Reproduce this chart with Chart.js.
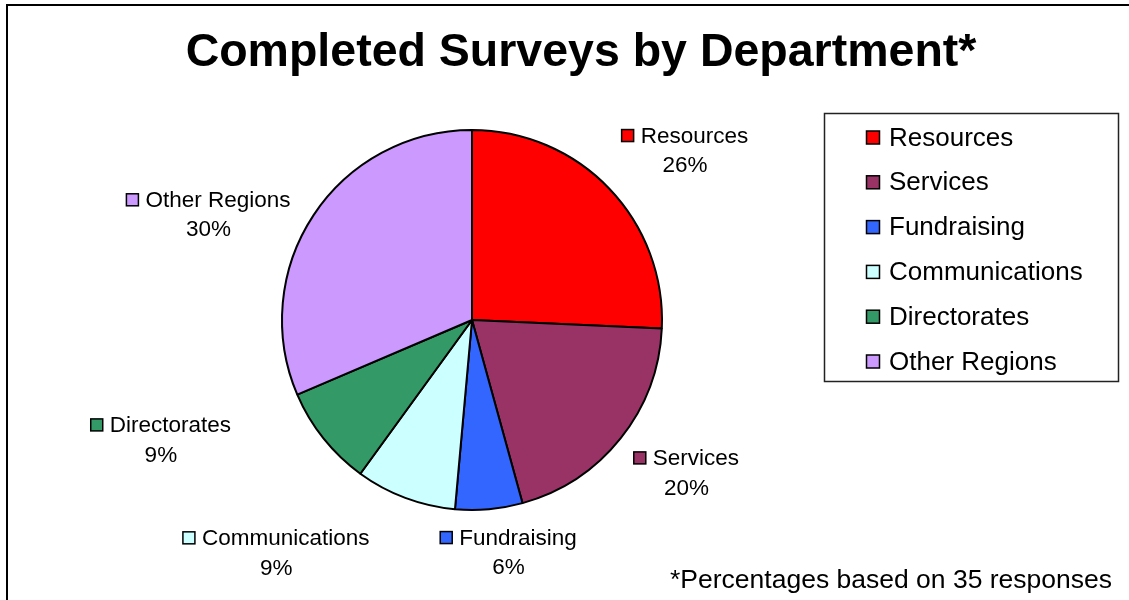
<!DOCTYPE html>
<html>
<head>
<meta charset="utf-8">
<title>Completed Surveys by Department</title>
<script src="https://cdn.jsdelivr.net/npm/chart.js@4.4.1/dist/chart.umd.min.js"></script>
<style>
  html, body { margin: 0; padding: 0; background: #fff; }
  #wrap { width: 1129px; height: 600px; }
</style>
</head>
<body>
<div id="wrap"><canvas id="surveyChart" width="1129" height="600"></canvas></div>
<script>
// data (35 responses in total)
const departments = ["Resources", "Services", "Fundraising", "Communications", "Directorates", "Other Regions"];
const responses = [9, 7, 2, 3, 3, 11];
const percentLabels = ["26%", "20%", "6%", "9%", "9%", "30%"];
const sliceColors = ["#FF0000", "#993366", "#3366FF", "#CCFFFF", "#339966", "#CC99FF"];

const chartTitle = "Completed Surveys by Department*";
const footNote = "*Percentages based on 35 responses";

const FONT = "'Liberation Sans', Arial, sans-serif";

// the labels were dragged around by hand in the original, so nudge them
const labelNudge = [[19, -11], [13, 9], [12, 3], [-91, 17], [-96, -24], [-24, 21]];

const decorPlugin = {
  id: "decor",
  afterDraw(chart) {
    const ctx = chart.ctx;
    ctx.save();

    // outer frame (only top and left visible)
    ctx.strokeStyle = "#000";
    ctx.lineWidth = 2;
    ctx.beginPath();
    ctx.moveTo(7, 610);
    ctx.lineTo(7, 5);
    ctx.lineTo(1140, 5);
    ctx.stroke();

    // title
    ctx.fillStyle = "#000";
    ctx.font = "bold 46.5px " + FONT;
    ctx.textAlign = "center";
    ctx.textBaseline = "alphabetic";
    ctx.fillText(chartTitle, 581, 66);

    // data labels outside the pie
    const meta = chart.getDatasetMeta(0);
    ctx.font = "22.5px " + FONT;
    meta.data.forEach((arc, i) => {
      const mid = (arc.startAngle + arc.endAngle) / 2;
      const ux = Math.cos(mid), uy = Math.sin(mid);
      const ax = arc.x + ux * (arc.outerRadius + 15);
      const ay = arc.y + uy * (arc.outerRadius + 15);
      const nameW = ctx.measureText(departments[i]).width;
      const w = 12 + 7 + nameW, h = 50;
      const cx = ax + ux * w / 2 + labelNudge[i][0];
      const cy = ay + uy * h / 2 + labelNudge[i][1];
      const y1 = cy - 14.5, y2 = cy + 15;
      const sx = cx - w / 2;

      ctx.fillStyle = sliceColors[i];
      ctx.fillRect(sx, y1 - 6, 12, 12);
      ctx.strokeStyle = "#000";
      ctx.lineWidth = 1.5;
      ctx.strokeRect(sx, y1 - 6, 12, 12);

      ctx.fillStyle = "#000";
      ctx.textAlign = "left";
      ctx.textBaseline = "middle";
      ctx.fillText(departments[i], sx + 19, y1 + 1);
      ctx.textAlign = "center";
      ctx.fillText(percentLabels[i], cx, y2 + 1);
    });

    // legend box
    ctx.strokeStyle = "#222";
    ctx.lineWidth = 1.5;
    ctx.strokeRect(824.5, 113.5, 294, 268);
    ctx.font = "26px " + FONT;
    ctx.textAlign = "left";
    ctx.textBaseline = "middle";
    departments.forEach((name, i) => {
      const y = 137.5 + i * 44.8;
      ctx.fillStyle = sliceColors[i];
      ctx.fillRect(866.5, y - 6.5, 13, 13);
      ctx.strokeStyle = "#000";
      ctx.lineWidth = 1.5;
      ctx.strokeRect(866.5, y - 6.5, 13, 13);
      ctx.fillStyle = "#000";
      ctx.fillText(name, 889, y + 1);
    });

    // foot note
    ctx.font = "26.5px " + FONT;
    ctx.textAlign = "right";
    ctx.textBaseline = "alphabetic";
    ctx.fillText(footNote, 1112, 588);

    ctx.restore();
  }
};

new Chart(document.getElementById("surveyChart"), {
  type: "pie",
  data: {
    labels: departments,
    datasets: [
      {
        data: responses,
        backgroundColor: sliceColors,
        borderColor: "#000",
        borderWidth: 2,
      },
    ],
  },
  options: {
    responsive: false,
    animation: false,
    layout: { padding: { left: 281, right: 466, top: 129, bottom: 89 } },
    plugins: {
      legend: { display: false },
      tooltip: { enabled: false },
      title: { display: false },
    },
  },
  plugins: [decorPlugin],
});
</script>
</body>
</html>
